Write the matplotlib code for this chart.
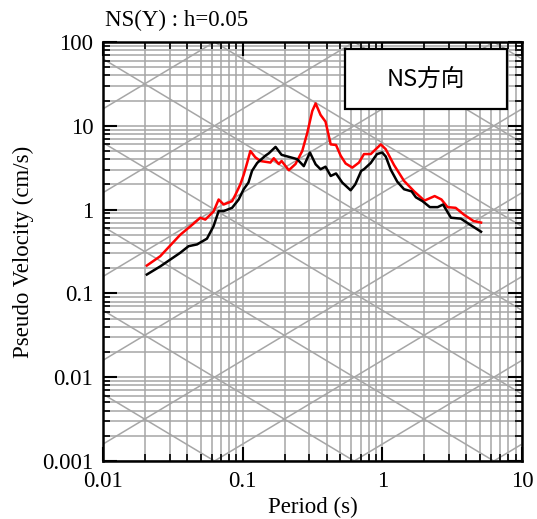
import numpy as np
import matplotlib
matplotlib.use("Agg")
import matplotlib.pyplot as plt
from matplotlib.ticker import LogLocator, FixedLocator, FixedFormatter, NullFormatter
from matplotlib.patches import Rectangle

# ---- data ----
black_T = [0.0206, 0.0257, 0.0357, 0.041, 0.0471, 0.0555, 0.0619, 0.0673, 0.0731, 0.084,
           0.0936, 0.1017, 0.110, 0.1167, 0.127, 0.1455, 0.154, 0.172, 0.19, 0.221,
           0.2455, 0.274, 0.303, 0.333, 0.361, 0.392, 0.427, 0.466, 0.517, 0.593,
           0.64, 0.706, 0.739, 0.826, 0.915, 0.998, 1.058, 1.148, 1.28, 1.43,
           1.62, 1.74, 1.94, 2.19, 2.49, 2.72, 3.10, 3.65, 4.31, 5.09]
black_V = [0.168, 0.21, 0.305, 0.366, 0.384, 0.45, 0.635, 0.96, 0.96, 1.05,
           1.32, 1.75, 2.1, 2.9, 3.6, 4.4, 4.7, 5.6, 4.5, 4.2,
           4.0, 3.3, 4.8, 3.47, 3.03, 3.25, 2.52, 2.7, 2.1, 1.7,
           2.0, 2.9, 3.03, 3.6, 4.6, 4.8, 4.3, 3.0, 2.15, 1.75,
           1.65, 1.4, 1.26, 1.07, 1.07, 1.15, 0.80, 0.78, 0.65, 0.545]

red_T = [0.0206, 0.0257, 0.0357, 0.0445, 0.0497, 0.0540, 0.0619, 0.0673, 0.0731, 0.084,
         0.0887, 0.0962, 0.1017, 0.1076, 0.1135, 0.1233, 0.134, 0.158, 0.167, 0.1815,
         0.19, 0.214, 0.239, 0.267, 0.29, 0.315, 0.333, 0.361, 0.392, 0.427,
         0.466, 0.503, 0.546, 0.61, 0.68, 0.739, 0.826, 0.975, 1.058, 1.213,
         1.43, 1.69, 2.0, 2.37, 2.65, 2.93, 3.35, 3.84, 4.5, 5.09]
red_V = [0.215, 0.278, 0.5, 0.68, 0.80, 0.76, 0.95, 1.32, 1.15, 1.26,
         1.5, 2.0, 2.6, 3.6, 5.0, 4.2, 3.8, 3.64, 4.1, 3.5,
         3.8, 2.95, 3.5, 5.0, 8.2, 15.0, 18.5, 13.5, 11.2, 6.0,
         5.9, 4.4, 3.55, 3.17, 3.64, 4.6, 4.6, 6.0, 5.25, 3.4,
         2.2, 1.65, 1.28, 1.45, 1.32, 1.07, 1.05, 0.87, 0.73, 0.70]

x_ticks = [0.01, 0.1, 1, 10]
x_labels = ["0.01", "0.1", "1", "10"]
y_ticks = [0.001, 0.01, 0.1, 1, 10, 100]
y_labels = ["0.001", "0.01", "0.1", "1", "10", "100"]

title = "NS(Y) : h=0.05"
box_text = "NS方向"
xlabel = "Period (s)"
ylabel = "Pseudo Velocity (cm/s)"

# ---- figure ----
plt.rcParams['font.family'] = ['Liberation Serif', 'DejaVu Serif']
W, H = 537, 519
fig = plt.figure(figsize=(W / 100, H / 100), dpi=100)
ax = fig.add_axes([103 / W, 1 - 461 / H, (522 - 103) / W, (461 - 42) / H])
ax.set_xscale('log')
ax.set_yscale('log')
ax.set_xlim(0.01, 10)
ax.set_ylim(0.001, 100)

grid_c = '#a6a6a6'
grid_lw = 1.1
# vertical / horizontal grid at every 1..9 x decade
for d in range(-2, 1):
    for m in range(1, 10):
        ax.axvline(m * 10.0 ** d, color=grid_c, lw=grid_lw, zorder=1)
ax.axvline(10, color=grid_c, lw=grid_lw, zorder=1)
for d in range(-3, 2):
    for m in range(1, 10):
        ax.axhline(m * 10.0 ** d, color=grid_c, lw=grid_lw, zorder=1)

# tripartite diagonals (constant displacement and acceleration)
Tg = np.logspace(-2, 1, 50)
for k in range(-7, 4):
    ax.plot(Tg, 2 * np.pi * 10.0 ** k / Tg, color=grid_c, lw=grid_lw, zorder=1)
for k in range(-4, 7):
    ax.plot(Tg, 10.0 ** k * Tg / (2 * np.pi), color=grid_c, lw=grid_lw, zorder=1)

ax.plot(red_T, red_V, color='#ff0000', lw=1.8, zorder=3)
ax.plot(black_T, black_V, color='black', lw=1.8, zorder=4)

ax.set_xlim(0.01, 10)
ax.set_ylim(0.001, 100)

ax.xaxis.set_major_locator(FixedLocator(x_ticks))
ax.xaxis.set_major_formatter(FixedFormatter(x_labels))
ax.yaxis.set_major_locator(FixedLocator(y_ticks))
ax.yaxis.set_major_formatter(FixedFormatter(y_labels))
ax.xaxis.set_minor_locator(LogLocator(base=10, subs=np.arange(2, 10)))
ax.yaxis.set_minor_locator(LogLocator(base=10, subs=np.arange(2, 10)))
ax.xaxis.set_minor_formatter(NullFormatter())
ax.yaxis.set_minor_formatter(NullFormatter())
ax.tick_params(which='both', direction='in', top=True, right=True, labelsize=16.5, colors='black')
ax.tick_params(which='major', length=10, width=1.5, pad=7)
ax.tick_params(which='minor', length=5, width=1.2)
for s in ax.spines.values():
    s.set_linewidth(1.8)
    s.set_zorder(5)

ax.set_xlabel(xlabel, fontsize=16.5, labelpad=4)
ax.set_ylabel(ylabel, fontsize=16.5, labelpad=6)

fig.text(105 / W, 1 - 20 / H, title, fontsize=16.5, ha='left', va='center')

# label box
ax.add_patch(Rectangle((345 / W, 1 - 109 / H), (507 - 345) / W, (109 - 49) / H,
                       transform=fig.transFigure, facecolor='white', edgecolor='black',
                       lw=1.6, zorder=10))
fig.text(426 / W, 1 - 79 / H, box_text, fontsize=17,
         family=['Noto Sans CJK JP', 'DejaVu Sans'], ha='center', va='center', zorder=11)

fig.savefig('out.png', dpi=100)
